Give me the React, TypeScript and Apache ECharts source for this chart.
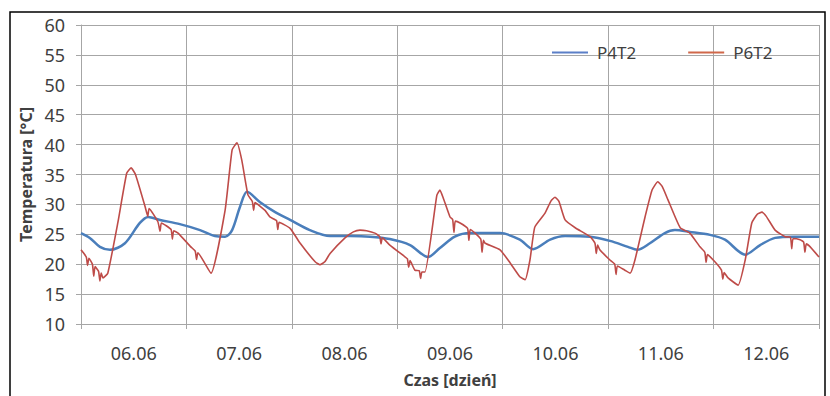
import React, { useEffect, useRef } from "react";
import * as echarts from "echarts";

const dayLabels = ["06.06", "07.06", "08.06", "09.06", "10.06", "11.06", "12.06"];
const yTicks = { min: 10, max: 60, interval: 5 };

// time in hours from start of 06.06
const p4t2Hours = [0, 2.0, 4.3, 6.6, 10.0, 13.4, 15.3, 18.0, 22.5, 27.1, 30.5, 32.8, 34.4, 36.2, 37.8, 40.7, 44.2, 47.6, 52.1, 56.7, 61.2, 65.8, 70.3, 74.9, 79.0, 81.7, 85.1, 88.6, 95.4, 99.9, 102.9, 106.8, 110.2, 115.9, 120.4, 124.5, 126.6, 129.5, 132.9, 135.2, 138.6, 143.2, 146.6, 151.2, 154.6, 158.0, 162.5, 168.0];
const p4t2Temp = [25.2, 24.4, 22.9, 22.4, 23.5, 26.9, 27.9, 27.4, 26.7, 25.7, 24.7, 24.6, 25.7, 29.6, 32.1, 30.4, 28.7, 27.4, 25.7, 24.7, 24.7, 24.6, 24.2, 23.2, 21.2, 22.7, 24.6, 25.2, 25.2, 24.1, 22.5, 24.1, 24.7, 24.6, 23.9, 22.9, 22.4, 23.5, 25.2, 25.7, 25.4, 24.9, 24.1, 21.6, 23.2, 24.4, 24.6, 24.6];

const p6t2Hours = [0, 1.2, 1.5, 1.8, 2.6, 2.9, 3.2, 4.0, 4.3, 4.6, 5.0, 6.1, 8.4, 10.4, 11.4, 12.4, 14.6, 15.2, 15.5, 17.5, 18.0, 18.3, 20.5, 20.8, 21.1, 22.1, 25.0, 26.0, 26.3, 26.6, 29.6, 32.8, 34.4, 35.5, 36.6, 38.0, 39.0, 39.3, 39.6, 41.9, 43.0, 44.5, 44.8, 45.1, 47.6, 49.9, 53.3, 54.4, 55.5, 56.7, 60.1, 62.0, 63.5, 65.0, 66.9, 68.0, 68.3, 68.6, 70.3, 73.8, 74.3, 74.6, 74.9, 76.0, 77.0, 77.3, 77.6, 78.3, 81.0, 81.7, 82.5, 84.0, 84.6, 84.9, 85.2, 86.3, 88.0, 88.3, 88.6, 89.7, 91.0, 91.3, 91.6, 92.0, 95.4, 97.7, 99.9, 101.1, 102.2, 103.3, 105.6, 107.0, 107.9, 108.8, 110.2, 112.5, 115.9, 117.0, 117.3, 117.6, 118.1, 120.4, 121.5, 121.8, 122.1, 123.8, 125.0, 126.1, 128.4, 130.0, 131.3, 132.3, 133.6, 136.4, 138.6, 140.9, 142.0, 142.3, 142.6, 144.3, 145.8, 146.1, 146.4, 147.3, 149.6, 151.2, 152.7, 154.0, 155.0, 156.0, 158.0, 160.3, 161.5, 161.8, 162.1, 163.7, 164.5, 164.8, 165.1, 166.0, 168.0];
const p6t2Temp = [22.4, 21.2, 19.8, 21.0, 20.0, 18.0, 19.6, 18.8, 17.2, 18.5, 17.7, 18.5, 27.0, 35.2, 36.1, 35.0, 29.6, 28.0, 29.3, 27.1, 25.5, 26.9, 25.8, 24.2, 25.6, 25.2, 22.9, 22.2, 20.8, 21.9, 18.5, 29.0, 39.1, 40.3, 37.4, 31.6, 30.5, 29.0, 30.3, 29.0, 27.9, 27.3, 25.8, 27.0, 26.0, 23.5, 20.4, 19.9, 20.4, 21.8, 24.4, 25.4, 25.7, 25.6, 25.2, 24.6, 23.4, 24.4, 23.2, 21.2, 20.9, 19.5, 20.6, 19.0, 18.9, 17.6, 18.7, 18.7, 31.5, 32.4, 31.0, 27.9, 27.5, 25.3, 27.2, 26.9, 26.0, 24.0, 25.8, 25.2, 24.2, 22.0, 24.0, 23.5, 22.4, 20.2, 17.9, 17.4, 20.7, 26.2, 28.5, 30.6, 31.2, 30.5, 27.4, 26.1, 24.6, 23.5, 21.8, 23.2, 22.4, 20.7, 20.0, 18.3, 19.7, 19.0, 18.5, 20.7, 27.9, 32.4, 33.8, 33.0, 30.8, 26.1, 25.2, 22.9, 22.0, 20.3, 21.6, 20.4, 19.0, 17.5, 18.6, 17.7, 16.5, 20.7, 26.9, 28.4, 28.7, 28.0, 25.7, 24.6, 24.5, 22.6, 24.3, 24.1, 23.7, 22.0, 23.4, 22.9, 21.2];

const FONT = "'Noto Sans', sans-serif";
const TXT = "#404040";
const GRID = "#a6a6a6";
const BLUE = "#4a7ebb";
const RED = "#be4b48";

export default function App() {
  const ref = useRef<HTMLDivElement>(null);
  useEffect(() => {
    if (!ref.current) return;
    const chart = echarts.init(ref.current, undefined, { renderer: "svg" });
    chart.setOption({
      animation: false,
      backgroundColor: "#ffffff",
      textStyle: { fontFamily: FONT },
      graphic: [
        {
          type: "rect",
          shape: { x: 10, y: 12, width: 815, height: 400 },
          style: { fill: "none", stroke: "#000", lineWidth: 1.5 },
          silent: true,
        },
      ],
      legend: {
        left: 547,
        top: 39,
        icon: "rect",
        itemWidth: 36,
        itemHeight: 2,
        itemGap: 52,
        textStyle: { fontFamily: FONT, fontSize: 17, color: TXT, padding: [0, 0, 0, 4] },
        data: [
          { name: "P4T2", itemStyle: { color: "#5b7fc7" } },
          { name: "P6T2", itemStyle: { color: "#d0684a" } },
        ],
      },
      grid: { left: 81, right: 11, top: 25, bottom: 72 },
      xAxis: [
        {
          type: "value",
          min: 0,
          max: 168,
          interval: 24,
          axisLine: { show: true, lineStyle: { color: GRID, width: 1 } },
          axisTick: { show: true, length: 5, lineStyle: { color: GRID } },
          axisLabel: { show: false },
          splitLine: { show: true, lineStyle: { color: GRID, width: 1 } },
        },
        {
          type: "category",
          position: "bottom",
          data: dayLabels,
          boundaryGap: true,
          axisLine: { show: false },
          axisTick: { show: false },
          splitLine: { show: false },
          axisLabel: { margin: 20, fontSize: 18, color: TXT, fontFamily: FONT },
          name: "Czas [dzień]",
          nameLocation: "middle",
          nameGap: 48,
          nameTextStyle: { fontSize: 16, fontWeight: "bold", color: TXT, fontFamily: FONT },
        },
      ],
      yAxis: {
        type: "value",
        min: yTicks.min,
        max: yTicks.max,
        interval: yTicks.interval,
        axisLine: { show: true, lineStyle: { color: GRID, width: 1 } },
        axisTick: { show: true, length: 5, lineStyle: { color: GRID } },
        axisLabel: { margin: 16, fontSize: 18, color: TXT, fontFamily: FONT },
        splitLine: { show: true, lineStyle: { color: GRID, width: 1 } },
        name: "Temperatura [°C]",
        nameLocation: "middle",
        nameRotate: 90,
        nameGap: 44,
        nameTextStyle: { fontSize: 16, fontWeight: "bold", color: TXT, fontFamily: FONT },
      },
      series: [
        {
          name: "P4T2",
          type: "line",
          xAxisIndex: 0,
          symbol: "none",
          smooth: 0.3,
          data: p4t2Hours.map((h, i) => [h, p4t2Temp[i]]),
          lineStyle: { color: BLUE, width: 2.5 },
          itemStyle: { color: BLUE },
        },
        {
          name: "P6T2",
          type: "line",
          xAxisIndex: 0,
          symbol: "none",
          smooth: 0.15,
          data: p6t2Hours.map((h, i) => [h, p6t2Temp[i]]),
          lineStyle: { color: RED, width: 1.6 },
          itemStyle: { color: RED },
        },
      ],
    });
    return () => chart.dispose();
  }, []);
  return (
    <div
      ref={ref}
      style={{ position: "absolute", left: 0, top: 0, width: 830, height: 396 }}
    />
  );
}
